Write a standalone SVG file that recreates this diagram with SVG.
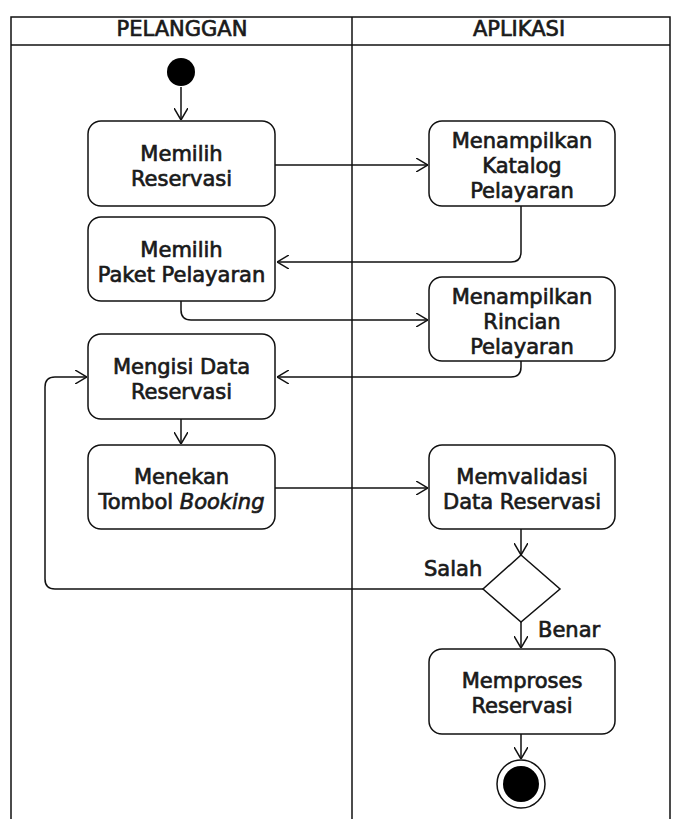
<svg xmlns="http://www.w3.org/2000/svg" width="681" height="819" viewBox="0 0 681 819">
  <style>
    .lane { fill: none; stroke: #111; stroke-width: 1.5; }
    .box { fill: #fff; stroke: #111; stroke-width: 1.5; }
    .edge { fill: none; stroke: #111; stroke-width: 1.5; marker-end: url(#open); }
    text { font-family: "DejaVu Sans", "Open Sans", sans-serif; font-size: 21px; fill: #1a1a1a; stroke: #1a1a1a; stroke-width: 0.7; text-anchor: middle; }
    .lbl { text-anchor: start; }
  </style>
  <defs>
    <marker id="open" viewBox="0 0 12 14" refX="12" refY="7" markerWidth="12" markerHeight="14" markerUnits="userSpaceOnUse" orient="auto">
      <path d="M0,0 L12,7 L0,14" fill="none" stroke="#111" stroke-width="1.5"/>
    </marker>
  </defs>

  <rect width="681" height="819" fill="#fff"/>

  <!-- swimlanes -->
  <g id="swimlanes">
    <path class="lane" d="M11,819 V17 H670 V819"/>
    <line class="lane" x1="11" y1="45" x2="670" y2="45"/>
    <line class="lane" x1="352" y1="17" x2="352" y2="819"/>
    <text x="182" y="36">PELANGGAN</text>
    <text x="519" y="36">APLIKASI</text>
  </g>

  <!-- connectors -->
  <g id="connectors">
    <path class="edge" d="M181,87 V120"/>
    <path class="edge" d="M275,165 H428"/>
    <path class="edge" d="M521,206 V252 Q521,262 511,262 H277"/>
    <path class="edge" d="M181,301 V310 Q181,320 191,320 H428"/>
    <path class="edge" d="M521,361 V367 Q521,377 511,377 H277"/>
    <path class="edge" d="M181,419 V444"/>
    <path class="edge" d="M275,488 H428"/>
    <path class="edge" d="M521,529 V555"/>
    <path class="edge" d="M483,589 H55 Q45,589 45,579 V387 Q45,377 55,377 H87"/>
    <path class="edge" d="M521,622 V648"/>
    <path class="edge" d="M521,734 V759"/>
  </g>

  <g id="start">
    <circle cx="181" cy="72" r="14" fill="#000"/>
  </g>

  <g id="memilih-reservasi">
    <rect class="box" x="88" y="121" width="187" height="85" rx="13"/>
    <text x="181.5" y="161">Memilih</text>
    <text x="181.5" y="186">Reservasi</text>
  </g>

  <g id="katalog">
    <rect class="box" x="429" y="121" width="186" height="85" rx="13"/>
    <text x="522" y="148">Menampilkan</text>
    <text x="522" y="173">Katalog</text>
    <text x="522" y="198">Pelayaran</text>
  </g>

  <g id="memilih-paket">
    <rect class="box" x="88" y="217" width="187" height="84" rx="13"/>
    <text x="181.5" y="257">Memilih</text>
    <text x="181.5" y="282">Paket Pelayaran</text>
  </g>

  <g id="rincian">
    <rect class="box" x="429" y="277" width="186" height="84" rx="13"/>
    <text x="522" y="304">Menampilkan</text>
    <text x="522" y="329">Rincian</text>
    <text x="522" y="354">Pelayaran</text>
  </g>

  <g id="mengisi">
    <rect class="box" x="88" y="334" width="187" height="85" rx="13"/>
    <text x="181.5" y="374">Mengisi Data</text>
    <text x="181.5" y="399">Reservasi</text>
  </g>

  <g id="menekan">
    <rect class="box" x="88" y="445" width="187" height="84" rx="13"/>
    <text x="181.5" y="484">Menekan</text>
    <text x="181.5" y="509">Tombol <tspan font-style="italic">Booking</tspan></text>
  </g>

  <g id="memvalidasi">
    <rect class="box" x="429" y="445" width="186" height="84" rx="13"/>
    <text x="522" y="484">Memvalidasi</text>
    <text x="522" y="509">Data Reservasi</text>
  </g>

  <g id="keputusan">
    <polygon class="box" points="521,555 560,589 521,622 483,589"/>
    <text class="lbl" x="424" y="576">Salah</text>
    <text class="lbl" x="538" y="637">Benar</text>
  </g>

  <g id="memproses">
    <rect class="box" x="429" y="649" width="186" height="85" rx="13"/>
    <text x="522" y="688">Memproses</text>
    <text x="522" y="713">Reservasi</text>
  </g>

  <g id="end">
    <circle cx="521" cy="784" r="24" fill="#fff" stroke="#111" stroke-width="1.5"/>
    <circle cx="521" cy="784" r="18" fill="#000"/>
  </g>
</svg>
